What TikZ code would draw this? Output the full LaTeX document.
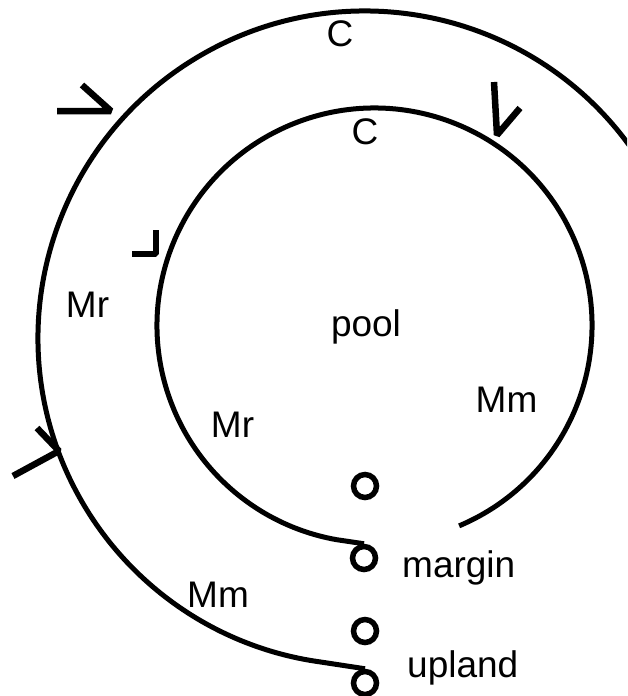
\documentclass[tikz,border=0pt]{standalone}
\usepackage{fontspec}
\setmainfont{Liberation Sans}
\begin{document}
\begin{tikzpicture}[x=1pt,y=-1pt,
  ring/.style={draw, line width=5pt},
  dot/.style={circle, draw, line width=5.5pt, minimum size=23pt, inner sep=0pt},
  lbl/.style={font=\fontsize{37}{40}\selectfont, inner sep=0pt, anchor=base},
  lblw/.style={font=\fontsize{37}{40}\selectfont, inner sep=0pt, anchor=base west},
  flowmark/.style={draw, line width=6.5pt, line join=bevel}]
\useasboundingbox (0,0) rectangle (627,696);
\clip (0,0) rectangle (627,696);

% small circles
\node[dot] (p1) at (365,486) {};
\node[dot] (mar) at (364,558) {};
\node[dot] (p3) at (365,631) {};
\node[dot] (upl) at (365,683) {};

% outer ring
\draw[ring] ([shift={(-30:327)}]365,338) arc[start angle=-30, end angle=-262, radius=327] -- (upl.north);
% inner ring
\draw[ring] ([shift={(67.1:217.5)}]374.5,325.5) arc[start angle=67.1, end angle=-260, radius=217.5] -- (mar.north);

% labels
\node[lbl] (c1) at (340,46) {C};
\node[lbl] (c2) at (365,144) {C};
\node[lbl] (mr1) at (87.5,317) {Mr};
\node[lbl] (pool) at (366,336) {pool};
\node[lbl] (mm1) at (506.5,412) {Mm};
\node[lbl] (mr2) at (232.5,437) {Mr};
\node[lbl] (mm2) at (218,607) {Mm};
\node[lblw] (tmar) at (402,577) {margin};
\node[lblw] (tupl) at (407,677) {upland};

% flow marks
\draw[flowmark] (57,111) -- (111,111) -- (82,85);
\draw[flowmark] (494,82) -- (497,135) -- (520,108);
\draw[flowmark] (132,254) -- (156,254) -- (156,230);
\draw[flowmark] (13,476) -- (59,451) -- (37,428);
\end{tikzpicture}
\end{document}
